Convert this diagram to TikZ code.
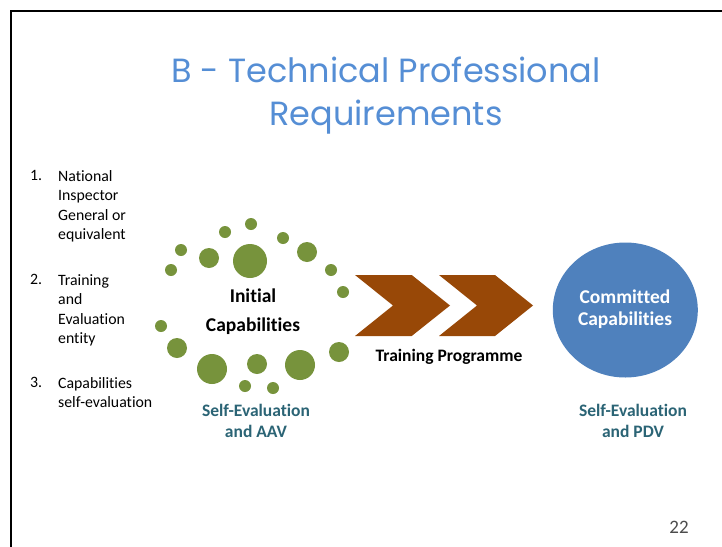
\documentclass[tikz,border=0pt]{standalone}
\usepackage{fontspec}
\setmainfont[RawFeature=-liga]{Carlito}
\newfontfamily\titlefont{Poppins}
\definecolor{dotgreen}{HTML}{77933C}
\definecolor{chevbrown}{HTML}{984807}
\definecolor{circblue}{HTML}{4F81BD}
\definecolor{titleblue}{HTML}{558ED5}
\definecolor{tealtxt}{HTML}{2B6475}
\begin{document}
\begin{tikzpicture}[x=1pt,y=-1pt,
  dot/.style={fill=dotgreen,draw=none},
  chev/.style={fill=chevbrown,draw=none},
  listtxt/.style={font=\fontsize{15.8}{19.5}\selectfont,anchor=north west,align=left,inner sep=0pt},
  numtxt/.style={font=\fontsize{15.8}{19.5}\selectfont,anchor=north west,inner sep=0pt},
  boldlbl/.style={font=\fontsize{19.5}{22}\selectfont\bfseries,align=center,inner sep=0pt},
  teallbl/.style={font=\fontsize{17.5}{21}\selectfont\bfseries,text=tealtxt,align=center,inner sep=0pt}]
\useasboundingbox (0,0) rectangle (722,546);
\fill[white] (0,0) rectangle (722,546);
% frame
\draw[line width=2.2pt] (11,548) -- (11,11) -- (724,11);
% title
\node[font=\titlefont\fontsize{33.5}{43}\selectfont,text=titleblue,align=center,inner sep=0pt] (title) at (386,96) {B - Technical Professional\\Requirements};
% list
\node[numtxt] (n1) at (30,170) {1.};
\node[listtxt] (l1) at (58,170) {National\\Inspector\\General or\\equivalent};
\node[numtxt] (n2) at (30,274) {2.};
\node[listtxt] (l2) at (58,274) {Training\\and\\Evaluation\\entity};
\node[numtxt] (n3) at (30,377) {3.};
\node[listtxt] (l3) at (58,377) {Capabilities\\self-evaluation};
% dots
\foreach \x/\y/\r [count=\i] in {171/270/6,181/250/6,209/258/10,225/232/6,251/224/6,250/261/17,283/238/6,307/252/10,331/270/6,343/292/6,161/326/6,177/348/10,212/369/15,257/364/10,300/365/15,339/352/10,245/386/6,273/388/6}
  \fill[dot] (\x,\y) circle (\r);
% initial capabilities
\node[boldlbl] (init) at (253,296) {Initial};
\node[boldlbl] (initcap) at (253,326) {Capabilities};
% chevrons
\fill[chev] (355,275) -- (411.7,275) -- (450,305.5) -- (411.7,336) -- (355,336) -- (393,305.5) -- cycle;
\fill[chev] (439,275) -- (495,275) -- (533,305.5) -- (495,336) -- (439,336) -- (477,305.5) -- cycle;
\node[font=\fontsize{17.5}{20}\selectfont\bfseries,inner sep=0pt] (train) at (449,357) {Training Programme};
% committed circle
\fill[circblue] (625.3,310) ellipse [x radius=72.5, y radius=67.5];
\node[boldlbl,text=white] (comm) at (625,309) {Committed\\Capabilities};
% teal labels
\node[teallbl] (se1) at (256,421) {Self-Evaluation\\and AAV};
\node[teallbl] (se2) at (633,421) {Self-Evaluation\\and PDV};
% page number
\node[font=\fontsize{19}{22}\selectfont,text=black!70,inner sep=0pt] (pg) at (679,527) {22};
\end{tikzpicture}
\end{document}
